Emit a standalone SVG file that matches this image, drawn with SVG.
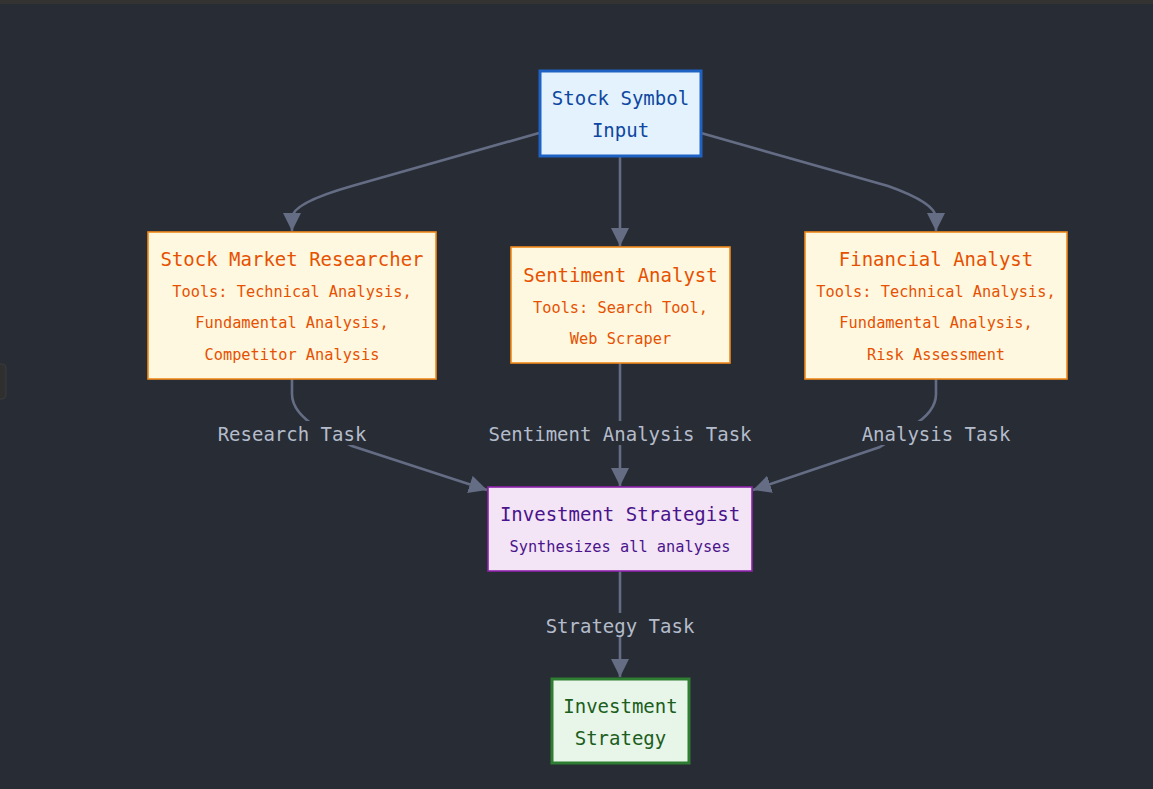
<svg xmlns="http://www.w3.org/2000/svg" width="1153" height="789" viewBox="0 0 1153 789">
<defs>
<marker id="arr" viewBox="0 0 10 10" refX="10" refY="5" markerUnits="userSpaceOnUse" markerWidth="18" markerHeight="18" orient="auto">
<path d="M0,0 L10,5 L0,10 z" fill="#646d84"/>
</marker>
<style>
text{font-family:"DejaVu Sans Mono","Liberation Mono",monospace;text-anchor:middle;dominant-baseline:central}
.edge{fill:none;stroke:#646d84;stroke-width:2.6;marker-end:url(#arr)}
.t{font-size:19px}
.s{font-size:15.3px}
.agent rect{fill:#fff8e1;stroke:#f08a1c;stroke-width:1.6}
.agent text{fill:#e65100}
.lbl rect{fill:#282c35}
.lbl text{fill:#b4bccb;font-size:19px}
</style>
</defs>
<rect width="1153" height="789" fill="#282c35"/>
<rect width="1153" height="4" fill="#333331"/>
<rect x="-6" y="364" width="12" height="35" rx="4" fill="#2f2f2f" stroke="#3a3a3a"/>

<g id="connectors">
<path class="edge" d="M539,133 L352,186 Q292,203 292,218 L292,231"/>
<path class="edge" d="M620,156 L620,246"/>
<path class="edge" d="M701,133 L888,186 Q936,203 936,218 L936,231"/>
<path class="edge" d="M292,379 L292,394 Q292,412 318,428 Q335,438 352,446 L487,490"/>
<path class="edge" d="M620,363 L620,486"/>
<path class="edge" d="M936,379 L936,394 Q936,412 912,426 Q895,438 880,447 L753,490"/>
<path class="edge" d="M620,571 L620,677"/>
</g>

<g id="edge-labels">
<g class="lbl"><rect x="216" y="421" width="152" height="24"/><text x="292" y="434">Research Task</text></g>
<g class="lbl"><rect x="486" y="421" width="268" height="24"/><text x="620" y="434">Sentiment Analysis Task</text></g>
<g class="lbl"><rect x="859" y="421" width="154" height="24"/><text x="936" y="434">Analysis Task</text></g>
<g class="lbl"><rect x="544" y="613" width="152" height="24"/><text x="620" y="626">Strategy Task</text></g>
</g>

<g id="input">
<rect x="540" y="71" width="161" height="85" fill="#e3f2fd" stroke="#1e63c4" stroke-width="3"/>
<text class="t" x="620.5" y="98" fill="#0d47a1">Stock Symbol</text>
<text class="t" x="620.5" y="130" fill="#0d47a1">Input</text>
</g>

<g id="researcher" class="agent">
<rect x="148" y="232" width="288" height="147"/>
<text class="t" x="292" y="259">Stock Market Researcher</text>
<text class="s" x="292" y="292">Tools: Technical Analysis,</text>
<text class="s" x="292" y="323">Fundamental Analysis,</text>
<text class="s" x="292" y="355">Competitor Analysis</text>
</g>

<g id="sentiment" class="agent">
<rect x="511" y="247" width="219" height="116"/>
<text class="t" x="620.5" y="275">Sentiment Analyst</text>
<text class="s" x="620.5" y="308">Tools: Search Tool,</text>
<text class="s" x="620.5" y="339">Web Scraper</text>
</g>

<g id="financial" class="agent">
<rect x="805" y="232" width="262" height="147"/>
<text class="t" x="936" y="259">Financial Analyst</text>
<text class="s" x="936" y="292">Tools: Technical Analysis,</text>
<text class="s" x="936" y="323">Fundamental Analysis,</text>
<text class="s" x="936" y="355">Risk Assessment</text>
</g>

<g id="strategist">
<rect x="488" y="487" width="264" height="84" fill="#f3e5f5" stroke="#8e24aa" stroke-width="1.6"/>
<text class="t" x="620" y="514" fill="#4a148c">Investment Strategist</text>
<text class="s" x="620" y="547" fill="#4a148c">Synthesizes all analyses</text>
</g>

<g id="output">
<rect x="552" y="679" width="137" height="84" fill="#e8f5e9" stroke="#2e7d32" stroke-width="3"/>
<text class="t" x="620.5" y="706" fill="#1b5e20">Investment</text>
<text class="t" x="620.5" y="738" fill="#1b5e20">Strategy</text>
</g>
</svg>
